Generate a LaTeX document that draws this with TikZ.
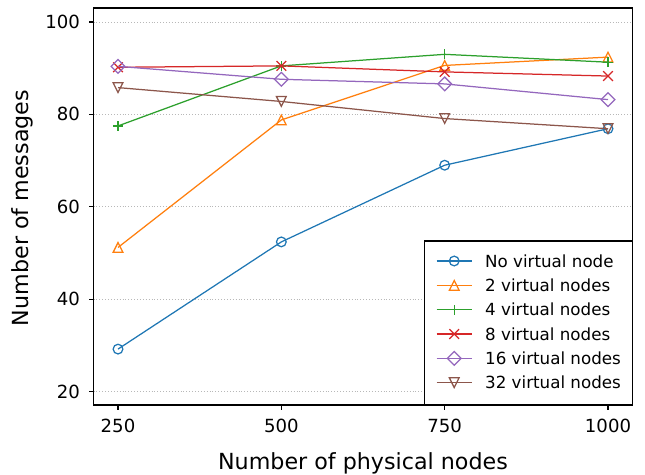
\documentclass[tikz,border=0pt]{standalone}
\usepackage{fontspec}
\setmainfont{DejaVu Sans}
\usetikzlibrary{plotmarks}

\definecolor{tabblue}{HTML}{1F77B4}
\definecolor{taborange}{HTML}{FF7F0E}
\definecolor{tabgreen}{HTML}{2CA02C}
\definecolor{tabred}{HTML}{D62728}
\definecolor{tabpurple}{HTML}{9467BD}
\definecolor{tabbrown}{HTML}{8C564B}
\definecolor{gridgray}{HTML}{B8B8B8}

% hollow markers, drawn the matplotlib way
\pgfdeclareplotmark{mplcirc}{\pgfpathcircle{\pgfpointorigin}{\pgfplotmarksize}\pgfusepathqstroke}
\pgfdeclareplotmark{mplup}{%
  \pgfpathmoveto{\pgfqpoint{0pt}{\pgfplotmarksize}}%
  \pgfpathlineto{\pgfqpoint{-\pgfplotmarksize}{-\pgfplotmarksize}}%
  \pgfpathlineto{\pgfqpoint{\pgfplotmarksize}{-\pgfplotmarksize}}%
  \pgfpathclose\pgfusepathqstroke}
\pgfdeclareplotmark{mpldown}{%
  \pgfpathmoveto{\pgfqpoint{0pt}{-\pgfplotmarksize}}%
  \pgfpathlineto{\pgfqpoint{-\pgfplotmarksize}{\pgfplotmarksize}}%
  \pgfpathlineto{\pgfqpoint{\pgfplotmarksize}{\pgfplotmarksize}}%
  \pgfpathclose\pgfusepathqstroke}
\pgfdeclareplotmark{mplplus}{%
  \pgfpathmoveto{\pgfqpoint{-\pgfplotmarksize}{0pt}}\pgfpathlineto{\pgfqpoint{\pgfplotmarksize}{0pt}}%
  \pgfpathmoveto{\pgfqpoint{0pt}{-\pgfplotmarksize}}\pgfpathlineto{\pgfqpoint{0pt}{\pgfplotmarksize}}%
  \pgfusepathqstroke}
\pgfdeclareplotmark{mplx}{%
  \pgfpathmoveto{\pgfqpoint{-\pgfplotmarksize}{-\pgfplotmarksize}}\pgfpathlineto{\pgfqpoint{\pgfplotmarksize}{\pgfplotmarksize}}%
  \pgfpathmoveto{\pgfqpoint{-\pgfplotmarksize}{\pgfplotmarksize}}\pgfpathlineto{\pgfqpoint{\pgfplotmarksize}{-\pgfplotmarksize}}%
  \pgfusepathqstroke}
\pgfdeclareplotmark{mpldiam}{%
  \pgfpathmoveto{\pgfqpoint{0pt}{1.414\pgfplotmarksize}}%
  \pgfpathlineto{\pgfqpoint{-1.414\pgfplotmarksize}{0pt}}%
  \pgfpathlineto{\pgfqpoint{0pt}{-1.414\pgfplotmarksize}}%
  \pgfpathlineto{\pgfqpoint{1.414\pgfplotmarksize}{0pt}}%
  \pgfpathclose\pgfusepathqstroke}

\begin{document}
\begin{tikzpicture}[x=1pt,y=1pt,line cap=butt,
  series/.style={line width=1.25pt,line join=round,mark size=4.85pt,
    mark options={solid,line width=1.25pt,line join=miter}},
  gridline/.style={gridgray,line width=0.9pt,dash pattern=on 1pt off 1.9pt},
  spine/.style={black,line width=1.1pt},
  tickmark/.style={black,line width=1.1pt},
  ticklabel/.style={inner sep=0pt,font=\fontsize{18.1}{21}\selectfont},
  axlabel/.style={inner sep=0pt,font=\fontsize{22.2}{26}\selectfont},
  legtext/.style={inner sep=0pt,anchor=base west,font=\fontsize{16.7}{20}\selectfont}]
\path[use as bounding box] (0,0) rectangle (645,474);

\begin{scope}[x=0.65333pt,y=4.62pt,shift={(-45.333pt,-10pt)}]
\foreach \v in {20,40,...,100}
  \draw[gridline] (212.5,\v) -- (1037.5,\v);

\draw[series,tabblue,mark=mplcirc] plot coordinates {(250,29.2) (500,52.4) (750,69.0) (1000,76.9)};
\draw[series,taborange,mark=mplup] plot coordinates {(250,51.2) (500,78.8) (750,90.6) (1000,92.4)};
\draw[series,tabgreen,mark=mplplus] plot coordinates {(250,77.5) (500,90.5) (750,93.0) (1000,91.3)};
\draw[series,tabred,mark=mplx] plot coordinates {(250,90.2) (500,90.5) (750,89.2) (1000,88.3)};
\draw[series,tabpurple,mark=mpldiam] plot coordinates {(250,90.4) (500,87.6) (750,86.6) (1000,83.2)};
\draw[series,tabbrown,mark=mpldown] plot coordinates {(250,85.8) (500,82.8) (750,79.1) (1000,76.9)};

\draw[spine] (212.5,17.1) rectangle (1037.5,103.03);
\foreach \x in {250,500,750,1000} {
  \draw[tickmark] (\x,17.1) -- ++(0,-4.9pt);
  \node[ticklabel,anchor=base] (xt\x) at ([yshift=-27.3pt]\x,17.1) {\x};
}
\foreach \v in {20,40,...,100} {
  \draw[tickmark] (212.5,\v) -- ++(-4.9pt,0);
  \node[ticklabel,anchor=east] (yt\v) at ([xshift=-13.3pt]212.5,\v) {\v};
}
\end{scope}

\node[axlabel,anchor=base] (xlab) at (363,4.8) {Number of physical nodes};
\node[axlabel,anchor=base,rotate=90] (ylab) at (28.5,266) {Number of messages};

% legend, lower right corner
\draw[spine,fill=white] (424.3,69) rectangle (632.3,233);
\foreach \lbl/\col/\mk [count=\i from 0] in {No virtual node/tabblue/mplcirc,
    2 virtual nodes/taborange/mplup, 4 virtual nodes/tabgreen/mplplus,
    8 virtual nodes/tabred/mplx, 16 virtual nodes/tabpurple/mpldiam,
    32 virtual nodes/tabbrown/mpldown} {
  \pgfmathsetmacro\ry{213-24.34*\i}
  \draw[series,\col,mark=\mk,mark indices={2}] plot coordinates {(436.7,\ry) (454.2,\ry) (471.7,\ry)};
  \node[legtext] (leg\i) at (485,\ry-6.1) {\lbl};
}
\end{tikzpicture}
\end{document}
